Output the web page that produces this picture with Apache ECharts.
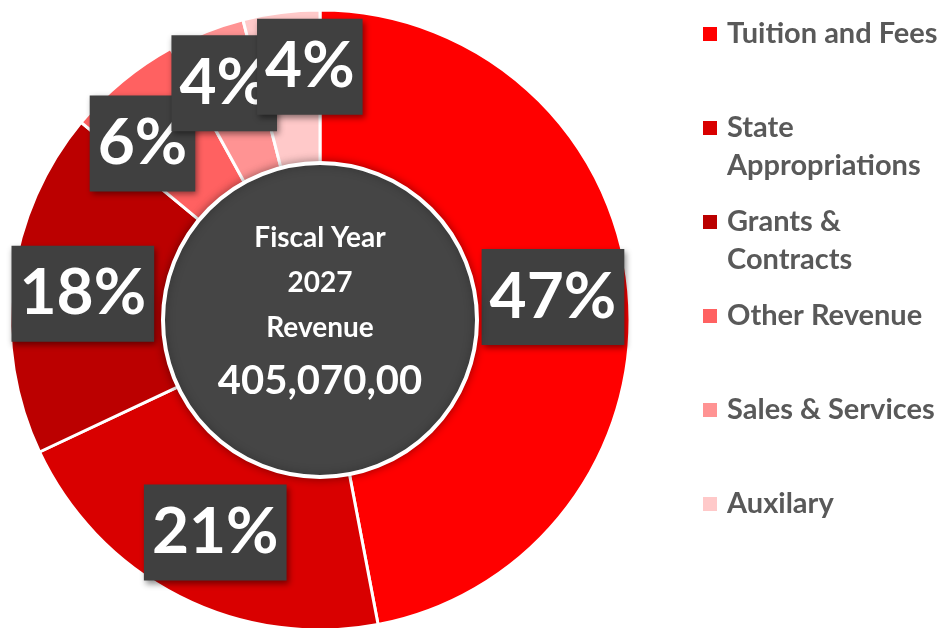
<!DOCTYPE html>
<html>
<head>
<meta charset="utf-8">
<title>Fiscal Year 2027 Revenue</title>
<script src="https://cdn.jsdelivr.net/npm/echarts@6/dist/echarts.min.js"></script>
<style>
  html, body { margin: 0; padding: 0; background: #fff; }
  #main { width: 952px; height: 628px; }
</style>
</head>
<body>
<div id="main"></div>
<script>
// revenue sources, share of total (%)
var categories = ['Tuition and Fees', 'State Appropriations', 'Grants & Contracts', 'Other Revenue', 'Sales & Services', 'Auxilary'];
var shares = [47, 21, 18, 6, 4, 4];
// legend wording as shown (line breaks)
var legendText = ['Tuition and Fees', 'State\nAppropriations', 'Grants &\nContracts', 'Other Revenue', 'Sales & Services', 'Auxilary'];
var centerLines = ['Fiscal Year', '2027', 'Revenue'];
var centerTotal = '405,070,00';

var colors = ['#ff0000', '#d90000', '#bb0000', '#ff6161', '#ff9393', '#ffc9c9'];
// nudges for the label boxes, like they were dragged in the original
var labelNudge = [[1, -1], [1, 5], [-6, 3], [-29, 3], [-10, -20], [19, -22]];

var chart = echarts.init(document.getElementById('main'));
var font = 'Lato, "Open Sans", sans-serif';
var lineH = 38;

// one legend per item so the icons sit on a fixed 94px grid,
// icon level with the first text line (blank lines above keep it there)
var legends = categories.map(function (name, i) {
  var lines = legendText[i].split('\n').length;
  var shown = 2 * lines - 1;
  var text = new Array(lines).join('\n') + legendText[i];
  var iconY = 34 + i * 94;
  return {
    data: [name],
    left: 703,
    top: iconY - shown * lineH / 2,
    padding: 0,
    orient: 'vertical',
    icon: 'rect',
    itemWidth: 14,
    itemHeight: 14,
    itemStyle: { borderWidth: 0 },
    selectedMode: false,
    formatter: function () { return text; },
    textStyle: {
      color: '#595959',
      fontFamily: font,
      fontWeight: 'bold',
      fontSize: 29,
      lineHeight: lineH,
      padding: [0, 0, 0, 5]
    }
  };
});

var option = {
  animation: false,
  color: colors,
  legend: legends,
  series: [
    {
      type: 'pie',
      center: [320, 320],
      radius: [150, 310],
      startAngle: 90,
      clockwise: true,
      silent: true,
      itemStyle: { borderColor: '#fff', borderWidth: 3 },
      label: {
        show: true,
        position: 'inside',
        formatter: '{c}%',
        color: '#fff',
        fontFamily: font,
        fontWeight: 'bold',
        fontSize: 64,
        lineHeight: 76,
        backgroundColor: '#404040',
        padding: [10, 8],
        shadowColor: 'rgba(0,0,0,0.45)',
        shadowBlur: 6,
        shadowOffsetX: 2,
        shadowOffsetY: 3
      },
      labelLine: { show: false },
      labelLayout: function (p) {
        var n = labelNudge[p.dataIndex];
        return { dx: n[0], dy: n[1] };
      },
      data: categories.map(function (name, i) {
        return { name: name, value: shares[i] };
      })
    },
    {
      type: 'pie',
      center: [320, 320],
      radius: [0, 157],
      silent: true,
      z: 3,
      itemStyle: {
        color: '#454545',
        borderColor: '#fff',
        borderWidth: 4,
        shadowColor: 'rgba(0,0,0,0.35)',
        shadowBlur: 10
      },
      label: {
        show: true,
        position: 'center',
        padding: [0, 0, 12, 0],
        formatter: centerLines.map(function (t) { return '{a|' + t + '}'; }).join('\n') + '\n{b|' + centerTotal + '}',
        rich: {
          a: { color: '#fff', fontFamily: font, fontWeight: 'bold', fontSize: 28, lineHeight: 45 },
          b: { color: '#fff', fontFamily: font, fontWeight: 'bold', fontSize: 40, lineHeight: 62 }
        }
      },
      labelLine: { show: false },
      data: [{ name: 'Revenue', value: 1 }]
    }
  ]
};

chart.setOption(option);
</script>
</body>
</html>
